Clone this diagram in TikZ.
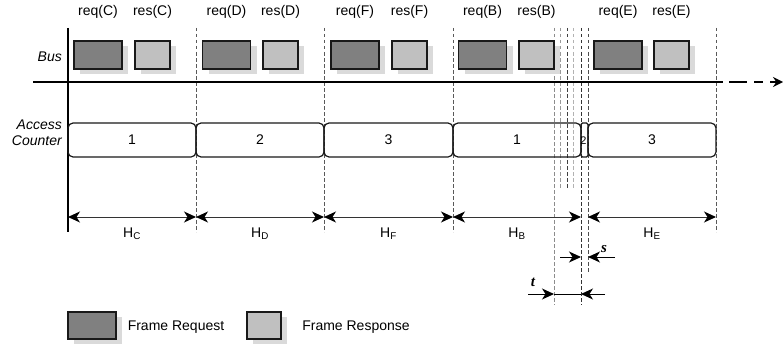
\documentclass[tikz,border=0pt]{standalone}
\usepackage{fontspec}
\setmainfont{Liberation Sans}
\newfontfamily\serifface{Liberation Serif}
\usetikzlibrary{arrows.meta,shadows}
\definecolor{reqgray}{HTML}{808080}
\definecolor{resgray}{HTML}{C0C0C0}
\definecolor{shadowgray}{HTML}{DADADA}
\begin{document}
\begin{tikzpicture}[x=1pt,y=-1pt,
  txt/.style={font=\fontsize{14}{15.5}\selectfont, inner sep=0pt},
  lbl/.style={txt, font=\fontsize{14}{16.5}\selectfont\itshape},
  sepline/.style={draw=black!65, line width=0.6pt, dash pattern=on 3.5pt off 2.5pt},
  fbox/.style={draw=black!90, line width=1.2pt, minimum height=28pt, inner sep=0pt,
    drop shadow={shadow xshift=6pt, shadow yshift=-5pt, fill=shadowgray, opacity=1}},
  reqbox/.style={fbox, fill=reqgray, minimum width=48pt},
  resbox/.style={fbox, fill=resgray, minimum width=35pt},
  counter/.style={draw=black!90, line width=1.2pt, rounded corners=5pt, minimum height=34pt, inner sep=0pt, txt},
  harrow/.style={draw=black!80, line width=1pt, {Stealth[length=12pt,width=11pt,inset=3.5pt,black]}-{Stealth[length=12pt,width=11pt,inset=3.5pt,black]}},
  gaparrow/.style={draw=black, line width=1pt, -{Stealth[length=12pt,width=11pt,inset=3.5pt,black]}},
  greek/.style={txt, font=\fontsize{15}{16}\serifface\bfseries\itshape},
]
\useasboundingbox (0,0) rectangle (783,345);

% period boundaries
\draw[sepline] (196,28) -- (196,232);
\draw[sepline] (324,28) -- (324,232);
\draw[sepline] (453,28) -- (453,232);
\draw[sepline] (716,28) -- (716,232);
% boundaries around the short slot
\draw[sepline, draw=black!45] (554,28) -- (554,305);
\draw[sepline, draw=black!40] (560,28) -- (560,189);
\draw[sepline, draw=black!75] (567,28) -- (567,189);
\draw[sepline, draw=black!30] (573,28) -- (573,189);
\draw[sepline, draw=black!80] (581,28) -- (581,305);
\draw[sepline, draw=black!70] (588,28) -- (588,272);

% axes
\coordinate (axtop) at (68,28);
\coordinate (axbot) at (68,232);
\coordinate (busL) at (33,82);
\coordinate (busR) at (723,82);
\coordinate (busD) at (729,82);
\coordinate (busEnd) at (783,82);
\draw[line width=2pt] (axtop) -- (axbot);
\draw[line width=2pt] (busL) -- (busR);
\draw[line width=2.6pt, dash pattern=on 18pt off 7pt on 9pt off 7pt, -{Stealth[length=10pt,width=10pt]}] (busD) -- (busEnd);

% row labels
\node[lbl, anchor=east] (buslbl) at (62,57) {Bus};
\node[lbl, anchor=east, align=right] (acclbl) at (62,133) {Access\\Counter};

% frames on the bus
\node[reqbox] (reqC) at (98,55) {};
\node[resbox] (resC) at (152.5,55) {};
\node[reqbox] (reqD) at (226.5,55) {};
\node[resbox] (resD) at (280.5,55) {};
\node[reqbox] (reqF) at (355,55) {};
\node[resbox] (resF) at (409.5,55) {};
\node[reqbox] (reqB) at (482.5,55) {};
\node[resbox] (resB) at (536.5,55) {};
\node[reqbox] (reqE) at (618,55) {};
\node[resbox] (resE) at (671.5,55) {};

\node[txt] (treqC) at (98,12) {req(C)};
\node[txt] (tresC) at (152.5,12) {res(C)};
\node[txt] (treqD) at (226.5,12) {req(D)};
\node[txt] (tresD) at (280.5,12) {res(D)};
\node[txt] (treqF) at (355,12) {req(F)};
\node[txt] (tresF) at (409.5,12) {res(F)};
\node[txt] (treqB) at (482.5,12) {req(B)};
\node[txt] (tresB) at (536.5,12) {res(B)};
\node[txt] (treqE) at (618,12) {req(E)};
\node[txt] (tresE) at (671.5,12) {res(E)};

% access counter slots
\node[counter, minimum width=128pt] (c1) at (132,140) {1};
\node[counter, minimum width=128pt] (c2) at (260,140) {2};
\node[counter, minimum width=129pt] (c3) at (388.5,140) {3};
\node[counter, minimum width=128pt] (c4) at (517,140) {1};
\node[counter, minimum width=7pt, rounded corners=1.5pt] (c5) at (584.5,140) {};
\node[txt, font=\fontsize{11}{11}\selectfont] (c5t) at (583.5,141) {2};
\node[counter, minimum width=128pt] (c6) at (652,140) {3};

% period lengths
\coordinate (h0) at (68,217);
\coordinate (h1) at (196,217);
\coordinate (h2) at (324,217);
\coordinate (h3) at (453,217);
\coordinate (h4) at (581,217);
\coordinate (h5) at (588,217);
\coordinate (h6) at (716,217);
\draw[harrow] (h0) -- (h1);
\draw[harrow] (h1) -- (h2);
\draw[harrow] (h2) -- (h3);
\draw[harrow] (h3) -- (h4);
\draw[harrow] (h5) -- (h6);
\node[txt] (HC) at (132,234) {H\textsubscript{C}};
\node[txt] (HD) at (260,234) {H\textsubscript{D}};
\node[txt] (HF) at (388.5,234) {H\textsubscript{F}};
\node[txt] (HB) at (517,234) {H\textsubscript{B}};
\node[txt] (HE) at (652,234) {H\textsubscript{E}};

% gap s
\coordinate (sL) at (560,257);
\coordinate (sA) at (581,257);
\coordinate (sB) at (588,257);
\coordinate (sR) at (615,257);
\draw[gaparrow] (sL) -- (sA);
\draw[gaparrow] (sR) -- (sB);
\node[greek] (slbl) at (604,249) {s};

% gap t
\coordinate (tL) at (528,294);
\coordinate (tA) at (554,294);
\coordinate (tB) at (581,294);
\coordinate (tR) at (605,294);
\draw[line width=1pt] (tA) -- (tB);
\draw[gaparrow] (tL) -- (tA);
\draw[gaparrow] (tR) -- (tB);
\node[greek] (tlbl) at (533,282) {t};

% legend
\node[fbox, fill=reqgray, minimum width=48pt, minimum height=27pt] (legreq) at (92,325.5) {};
\node[txt] (legreqt) at (176,327) {Frame Request};
\node[fbox, fill=resgray, minimum width=34pt, minimum height=27pt] (legres) at (264,325.5) {};
\node[txt] (legrest) at (356,327) {Frame Response};
\end{tikzpicture}
\end{document}
